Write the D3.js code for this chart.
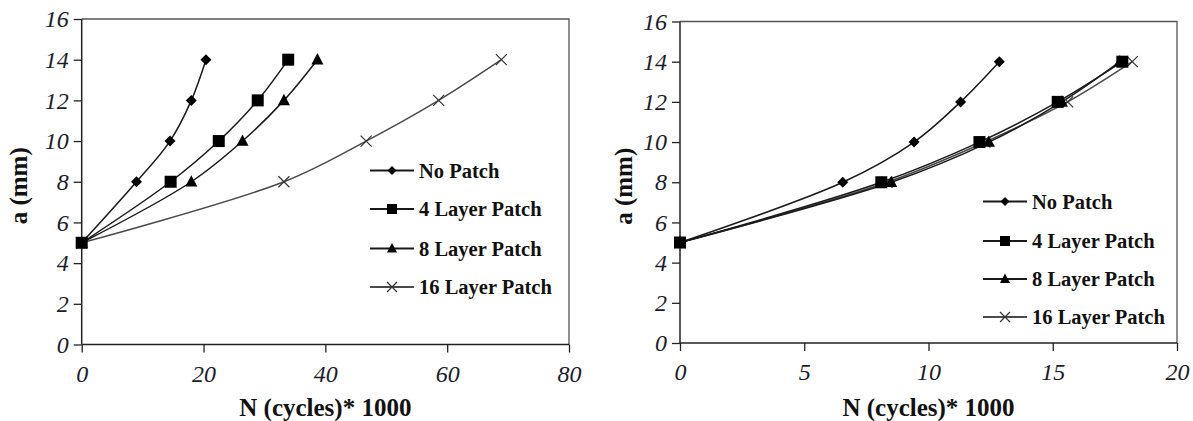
<!DOCTYPE html>
<html>
<head>
<meta charset="utf-8">
<script src="https://cdn.jsdelivr.net/npm/d3@7"></script>
<style>
  html, body { margin: 0; padding: 0; background: #fff; }
  svg { display: block; }
  #chart text { font-family: "Liberation Serif", "Times New Roman", serif !important; }
</style>
</head>
<body>
<svg id="chart" width="1193" height="421"></svg>
<script>
// ---------- data ----------
const seriesNames = ["No Patch", "4 Layer Patch", "8 Layer Patch", "16 Layer Patch"];
const crackLength = [5, 8, 10, 12, 14];   // a (mm)

// Left chart: N (cycles)*1000
const leftNoPatch = [0, 9.0, 14.5, 18.0, 20.4];
const left4Layer  = [0, 14.6, 22.5, 28.9, 33.9];
const left8Layer  = [0, 18.0, 26.4, 33.2, 38.7];
const left16Layer = [0, 33.2, 46.7, 58.6, 68.9];
const leftXTicks = [0, 20, 40, 60, 80];

// Right chart: N (cycles)*1000
const rightNoPatch = [0, 6.55, 9.42, 11.29, 12.85];
const right4Layer  = [0, 8.1, 12.05, 15.2, 17.8];
const right8Layer  = [0, 8.5, 12.43, 15.37, 17.7];
const right16Layer = [0, 8.33, 12.27, 15.6, 18.2];
const rightXTicks = [0, 5, 10, 15, 20];

const yTicks = [0, 2, 4, 6, 8, 10, 12, 14, 16];
const xTitle = "N (cycles)* 1000";
const yTitle = "a (mm)";

// ---------- drawing ----------
const svg = d3.select("#chart");
const markerTypes = ["diamond", "square", "triangle", "cross"];
const lineColors = ["#1a1a1a", "#1a1a1a", "#1a1a1a", "#4a4a4a"];
const FONT = `"Liberation Serif", "Times New Roman", serif`;

function drawMarker(g, type, x, y, s) {
  if (type === "diamond") {
    g.append("path").attr("d", `M${x},${y - s}L${x + s},${y}L${x},${y + s}L${x - s},${y}Z`).attr("fill", "#000");
  } else if (type === "square") {
    g.append("rect").attr("x", x - s).attr("y", y - s).attr("width", 2 * s).attr("height", 2 * s).attr("fill", "#000");
  } else if (type === "triangle") {
    g.append("path").attr("d", `M${x},${y - s * 1.1}L${x + s},${y + s * 0.8}L${x - s},${y + s * 0.8}Z`).attr("fill", "#000");
  } else {
    g.append("path").attr("d", `M${x - s},${y - s}L${x + s},${y + s}M${x - s},${y + s}L${x + s},${y - s}`)
      .attr("stroke", "#333").attr("stroke-width", 1.2).attr("fill", "none");
  }
}
const markerSize = { diamond: 5.5, square: 6, triangle: 6, cross: 5.5 };
const legendMarkerSize = { diamond: 4.5, square: 5, triangle: 5, cross: 5 };

function styleText(sel, size, weight, italic) {
  sel.attr("font-family", FONT)
     .style("font-family", FONT, "important")
     .style("font-size", size + "px")
     .style("font-weight", weight)
     .style("font-style", italic ? "italic" : "normal");
}

function drawChart(cfg) {
  const x = d3.scaleLinear().domain(cfg.xDomain).range([cfg.left, cfg.right]);
  const y = d3.scaleLinear().domain([0, 16]).range([cfg.bottom, cfg.top]);
  const g = svg.append("g");

  // frame (top & right)
  g.append("path")
    .attr("d", `M${cfg.left},${cfg.top}H${cfg.right}V${cfg.bottom}`)
    .attr("fill", "none").attr("stroke", "#555").attr("stroke-width", 1.3);

  // axes
  const xAxis = d3.axisBottom(x).tickValues(cfg.xTicks).tickSize(8).tickPadding(12).tickFormat(d3.format("d"));
  const yAxis = d3.axisLeft(y).tickValues(yTicks).tickSize(8).tickPadding(5).tickFormat(d3.format("d"));
  const gx = g.append("g").attr("transform", `translate(0,${cfg.bottom})`).call(xAxis);
  const gy = g.append("g").attr("transform", `translate(${cfg.left},0)`).call(yAxis);
  [gx, gy].forEach(a => {
    a.attr("font-family", FONT).attr("font-size", null);
    a.select(".domain").attr("stroke", "#222").attr("stroke-width", 1.5);
    a.selectAll(".tick line").attr("stroke", "#222").attr("stroke-width", 1.3);
    styleText(a.selectAll(".tick text").attr("fill", "#1c1c2a"), 24, "normal", true);
  });
  gy.select(".domain").attr("d", `M0,${cfg.bottom}V${cfg.top}`);
  gx.select(".domain").attr("d", `M${cfg.left},0H${cfg.right}`);

  // titles (directly on the svg root)
  styleText(svg.append("text").attr("x", (cfg.left + cfg.right) / 2).attr("y", 416)
    .attr("text-anchor", "middle").attr("fill", "#111").text(xTitle), 25, "bold", false);
  styleText(svg.append("text").attr("transform", `translate(${cfg.yTitleX},${(cfg.top + cfg.bottom) / 2 + 4}) rotate(-90)`)
    .attr("text-anchor", "middle").attr("fill", "#111").text(yTitle), 25, "bold", false);

  // series
  const line = d3.line().x(d => x(d[0])).y(d => y(d[1])).curve(d3.curveCatmullRom.alpha(0.5));
  const order = [3, 2, 1, 0];
  order.forEach(i => {
    const pts = cfg.series[i].map((n, k) => [n, crackLength[k]]);
    g.append("path").datum(pts).attr("d", line).attr("fill", "none")
      .attr("stroke", lineColors[i]).attr("stroke-width", 1.5);
  });
  order.forEach(i => {
    cfg.series[i].forEach((n, k) => drawMarker(g, markerTypes[i], x(n), y(crackLength[k]), markerSize[markerTypes[i]]));
  });

  // legend
  seriesNames.forEach((name, i) => {
    const ly = cfg.legendY[i];
    g.append("line").attr("x1", cfg.legendX).attr("x2", cfg.legendX + 44).attr("y1", ly).attr("y2", ly)
      .attr("stroke", lineColors[i]).attr("stroke-width", 2);
    drawMarker(g, markerTypes[i], cfg.legendX + 22, ly, legendMarkerSize[markerTypes[i]]);
    styleText(svg.append("text").attr("x", cfg.legendX + 49).attr("y", ly + 7)
      .attr("fill", "#111").text(name), 20.5, "bold", false);
  });
}

drawChart({
  xDomain: [0, 80], xTicks: leftXTicks, left: 81.7, right: 569, top: 19, bottom: 344.5,
  series: [leftNoPatch, left4Layer, left8Layer, left16Layer],
  yTitleX: 27, legendX: 370, legendY: [170.5, 209, 248.5, 287]
});
drawChart({
  xDomain: [0, 20], xTicks: rightXTicks, left: 680, right: 1177, top: 21.5, bottom: 343,
  series: [rightNoPatch, right4Layer, right8Layer, right16Layer],
  yTitleX: 632, legendX: 983, legendY: [201.5, 241, 279, 317]
});
</script>
</body>
</html>
